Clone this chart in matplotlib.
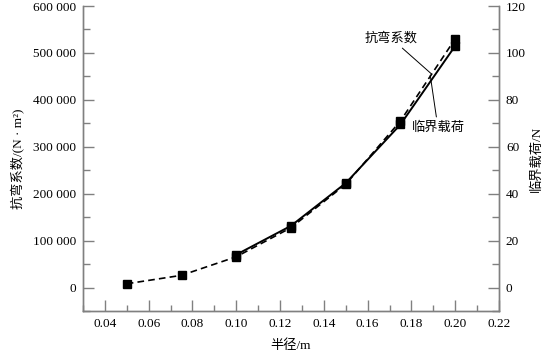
import matplotlib
matplotlib.use("Agg")
import matplotlib.pyplot as plt
from matplotlib.ticker import MultipleLocator, FuncFormatter

plt.rcParams['font.family'] = ['Liberation Serif', 'Noto Sans CJK SC']

radius = [0.05, 0.075, 0.10, 0.125, 0.15, 0.175, 0.20]
bending = [8000, 26000, 65500, 127500, 220000, 355000, 530000]
radius_load = [0.10, 0.125, 0.15, 0.175, 0.20]
load = [14, 26.3, 44.5, 69.5, 103]

fig = plt.figure(figsize=(5.47, 3.55), dpi=100)
ax = fig.add_axes([0.1517, 0.124, 0.7605, 0.859])
ax2 = ax.twinx()

spine_c = '#808080'
fs = 9.5

ax.plot(radius, bending, color='black', lw=1.2, ls=(0, (4, 2.5)), marker='s', ms=5.5,
        zorder=3)
ax2.plot(radius_load, load, color='black', lw=1.4, ls='-', marker='s', ms=5.5, zorder=3)

ax.set_xlim(0.03, 0.22)
ax.set_ylim(-50000, 600000)
ax2.set_ylim(-10, 120)

ax.set_xticks([0.04, 0.06, 0.08, 0.10, 0.12, 0.14, 0.16, 0.18, 0.20, 0.22])
ax.xaxis.set_major_formatter(FuncFormatter(lambda v, p: f"{v:.2f}"))
ax.set_yticks([0, 100000, 200000, 300000, 400000, 500000, 600000])
ax.yaxis.set_major_formatter(FuncFormatter(lambda v, p: f"{int(v):,}".replace(',', ' ')))
ax2.set_yticks([0, 20, 40, 60, 80, 100, 120])

for a in (ax, ax2):
    a.spines['top'].set_visible(False)
    for s in ('left', 'right', 'bottom'):
        a.spines[s].set_color(spine_c)
        a.spines[s].set_linewidth(1.0)
    a.tick_params(which='major', direction='in', length=8, width=1.0, color=spine_c,
                  labelsize=fs, pad=5)
    a.tick_params(which='minor', direction='in', length=5, width=1.0, color=spine_c)
ax.minorticks_on()
ax.xaxis.set_minor_locator(MultipleLocator(0.01))
ax.yaxis.set_minor_locator(MultipleLocator(50000))
ax2.yaxis.set_minor_locator(MultipleLocator(10))
ax.tick_params(axis='x', which='minor', length=4)

ax.set_xlabel("半径/m", fontsize=fs, labelpad=7)
ax.set_ylabel("抗弯系数/(N · m²)", fontsize=fs, labelpad=6)
ax2.set_ylabel("临界载荷/N", fontsize=fs, labelpad=3)

ax.annotate("抗弯系数", xy=(0.189, 456000), xytext=(0.1707, 531600),
            fontsize=fs, ha='center', va='center',
            arrowprops=dict(arrowstyle='-', lw=0.7, color='black', shrinkA=1, shrinkB=0))
ax.annotate("临界载荷", xy=(0.1886, 452600), xytext=(0.1921, 341600),
            fontsize=fs, ha='center', va='center',
            arrowprops=dict(arrowstyle='-', lw=0.7, color='black', shrinkA=1, shrinkB=0))

fig.savefig("out.png", dpi=100)
